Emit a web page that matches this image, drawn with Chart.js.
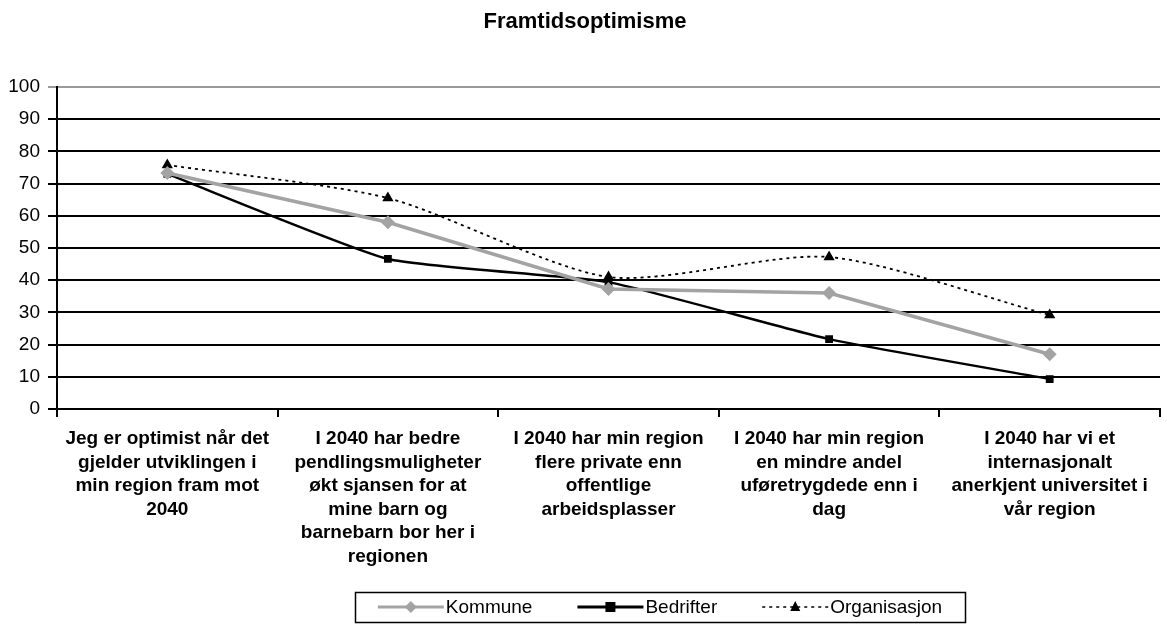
<!DOCTYPE html>
<html><head><meta charset="utf-8">
<script src="https://cdn.jsdelivr.net/npm/chart.js@4/dist/chart.umd.min.js"></script>
<style>html,body{margin:0;padding:0;background:#fff}#wrap{width:1167px;height:626px}</style>
</head><body><div id="wrap"><canvas id="c" width="1167" height="626"></canvas></div>
<script>
const categories = [
  ["Jeg er optimist når det","gjelder utviklingen i","min region fram mot","2040"],
  ["I 2040 har bedre","pendlingsmuligheter","økt sjansen for at","mine barn og","barnebarn bor her i","regionen"],
  ["I 2040 har min region","flere private enn","offentlige","arbeidsplasser"],
  ["I 2040 har min region","en mindre andel","uføretrygdede enn i","dag"],
  ["I 2040 har vi et","internasjonalt","anerkjent universitet i","vår region"]
];
const kommune = [73.3, 58, 37.3, 36, 17];
const bedrifter = [73, 46.6, 39.4, 21.7, 9.3];
const organisasjon = [75.8, 65.5, 41, 47.2, 29.2];
const yTicks = [0,10,20,30,40,50,60,70,80,90,100];

const FONT = 'Liberation Sans, Arial, sans-serif';
const GREY = '#a3a3a3';

function drawMarker(g, shape, cx, cy, color) {
  g.fillStyle = color; g.beginPath();
  if (shape === 'diamond') { g.moveTo(cx,cy-6); g.lineTo(cx+6,cy); g.lineTo(cx,cy+6); g.lineTo(cx-6,cy); }
  else if (shape === 'square') { g.rect(cx-5,cy-5,10,10); }
  else { g.moveTo(cx,cy-6); g.lineTo(cx+5,cy+4); g.lineTo(cx-5,cy+4); }
  g.closePath(); g.fill();
}

const customLegend = {
  id: 'customLegend',
  afterDraw(chart) {
    const ctx = chart.ctx;
    ctx.save();
    ctx.strokeStyle = '#000'; ctx.lineWidth = 1.5;
    ctx.strokeRect(355.5, 592.5, 610, 30);
    ctx.font = '19px ' + FONT;
    ctx.textBaseline = 'middle'; ctx.textAlign = 'left';
    const specs = [
      {color: GREY, width: 3, dash: [], shape: 'diamond'},
      {color: '#000', width: 3, dash: [], shape: 'square'},
      {color: '#000', width: 1.3, dash: [3,4], shape: 'triangle'}
    ];
    const iconW = 66, gap = 2, itemGap = 45, cy = 607;
    const items = chart.data.datasets.map((d,i)=>({label:d.label, spec:specs[i], tw:ctx.measureText(d.label).width}));
    const total = items.reduce((s,it)=>s+iconW+gap+it.tw,0) + itemGap*(items.length-1);
    let x = 660 - total/2;
    items.forEach(it=>{
      const s = it.spec;
      ctx.strokeStyle = s.color; ctx.lineWidth = s.width; ctx.setLineDash(s.dash);
      ctx.beginPath(); ctx.moveTo(x, cy); ctx.lineTo(x+iconW, cy); ctx.stroke();
      ctx.setLineDash([]);
      drawMarker(ctx, s.shape, x+iconW/2, cy, s.color === GREY ? GREY : '#000');
      ctx.fillStyle = '#000';
      ctx.fillText(it.label, x+iconW+gap, cy+1);
      x += iconW + gap + it.tw + itemGap;
    });
    ctx.restore();
  }
};

new Chart(document.getElementById('c'), {
  type: 'line',
  data: {
    labels: categories,
    datasets: [
      {label:'Kommune', data:kommune, borderColor:GREY, backgroundColor:GREY, borderWidth:3.5, pointStyle:'rectRot', pointRadius:7, pointBorderWidth:0, tension:0},
      {label:'Bedrifter', data:bedrifter, borderColor:'#000', backgroundColor:'#000', borderWidth:2.5, pointStyle:'rect', pointRadius:5.5, pointBorderWidth:0, tension:0.15},
      {label:'Organisasjon', data:organisasjon, borderColor:'#000', backgroundColor:'#000', borderWidth:1.8, borderDash:[3,4], pointStyle:'triangle', pointRadius:6.5, pointBorderWidth:0, tension:0.25}
    ]
  },
  options: {
    responsive:false, animation:false,
    layout:{padding:{left:8,right:5,top:0,bottom:40}},
    plugins:{
      title:{display:true, text:'Framtidsoptimisme', color:'#000', font:{family:FONT, size:22, weight:'bold'}, padding:{top:9,bottom:51.6}},
      legend:{display:false},
      tooltip:{enabled:false}
    },
    scales:{
      x:{offset:true, afterFit(s){ s.height = 177; },
        grid:{offset:true, drawOnChartArea:false, color:'#000', lineWidth:2, tickLength:8},
        border:{color:'#000', width:2},
        ticks:{color:'#000', font:{family:FONT, size:19, weight:'bold', lineHeight:1.24}, maxRotation:0, autoSkip:false, padding:10}},
      y:{min:0, max:100, afterBuildTicks(ax){ax.ticks = yTicks.map(v=>({value:v}));},
        afterFit(s){ s.width = 49; },
        grid:{color:(c)=>c.tick && c.tick.value===100 ? '#999' : '#000', lineWidth:2, tickLength:9},
        border:{color:'#000', width:2},
        ticks:{color:'#000', font:{family:FONT, size:19}, padding:8}}
    }
  },
  plugins:[customLegend]
});
</script></body></html>
